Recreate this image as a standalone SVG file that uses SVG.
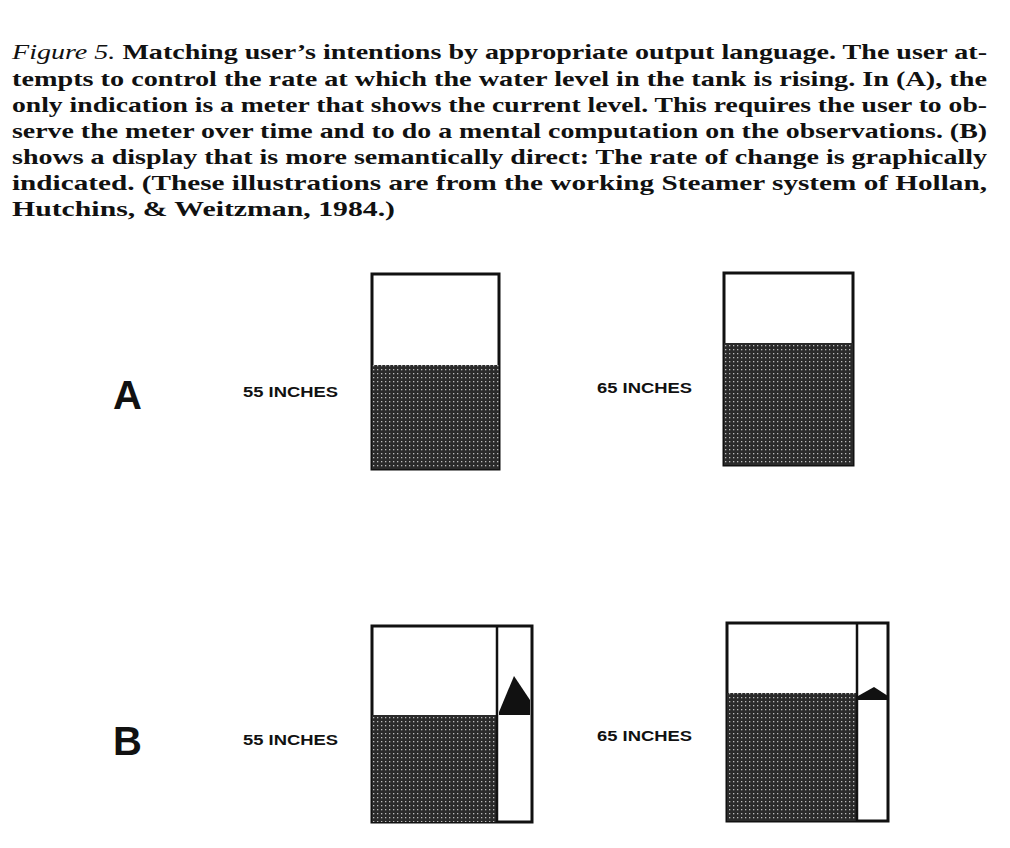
<svg xmlns="http://www.w3.org/2000/svg" width="1010" height="848" viewBox="0 0 1010 848">
<style>
.cap{font-family:"Liberation Serif",serif;font-weight:bold;font-size:22px;fill:#111}
.lbl{font-family:"Liberation Sans",sans-serif;font-weight:bold;font-size:14px;fill:#111}
.big{font-family:"Liberation Sans",sans-serif;font-weight:bold;font-size:40px;fill:#111}
.frame{fill:#fff;stroke:#111;stroke-width:3}
.water{fill:url(#dots)}
</style>
<defs>
<pattern id="dots" width="4" height="4" patternUnits="userSpaceOnUse">
<rect width="4" height="4" fill="#2a2a2a"/>
<rect x="1" y="1" width="1.3" height="1.3" fill="#bbb"/>
</pattern>
</defs>
<rect width="1010" height="848" fill="#fff"/>
<g id="caption">
<text class="cap" x="12" y="59" textLength="975" lengthAdjust="spacingAndGlyphs"><tspan font-style="italic" font-weight="normal">Figure 5.</tspan>   Matching user’s intentions by appropriate output language. The user at-</text>
<text class="cap" x="12" y="86" textLength="975" lengthAdjust="spacingAndGlyphs">tempts to control the rate at which the water level in the tank is rising. In (A), the</text>
<text class="cap" x="12" y="112" textLength="975" lengthAdjust="spacingAndGlyphs">only indication is a meter that shows the current level. This requires the user to ob-</text>
<text class="cap" x="12" y="138" textLength="975" lengthAdjust="spacingAndGlyphs">serve the meter over time and to do a mental computation on the observations. (B)</text>
<text class="cap" x="12" y="164" textLength="975" lengthAdjust="spacingAndGlyphs">shows a display that is more semantically direct: The rate of change is graphically</text>
<text class="cap" x="12" y="190" textLength="975" lengthAdjust="spacingAndGlyphs">indicated. (These illustrations are from the working Steamer system of Hollan,</text>
<text class="cap" x="12" y="216" textLength="383" lengthAdjust="spacingAndGlyphs">Hutchins, &amp; Weitzman, 1984.)</text>
</g>
<g id="panelA">
<text class="big" x="113" y="409">A</text>
<text class="lbl" x="243" y="397" textLength="95" lengthAdjust="spacingAndGlyphs">55 INCHES</text>
<rect class="frame" x="372" y="274" width="127" height="195"/>
<rect class="water" x="372" y="365" width="127" height="104"/>
<text class="lbl" x="597" y="393" textLength="95" lengthAdjust="spacingAndGlyphs">65 INCHES</text>
<rect class="frame" x="724" y="273" width="129" height="192"/>
<rect class="water" x="724" y="343" width="129" height="122"/>
</g>
<g id="panelB">
<text class="big" x="113" y="755">B</text>
<text class="lbl" x="243" y="745" textLength="95" lengthAdjust="spacingAndGlyphs">55 INCHES</text>
<rect class="frame" x="372" y="626" width="160" height="196"/>
<rect class="water" x="372" y="715" width="125" height="107"/>
<line x1="497" y1="626" x2="497" y2="822" stroke="#111" stroke-width="2.5"/>
<polygon points="499,712 514,676 530,700 530,712" fill="#111"/>
<rect x="499" y="712" width="31" height="3" fill="#111"/>
<text class="lbl" x="597" y="741" textLength="95" lengthAdjust="spacingAndGlyphs">65 INCHES</text>
<rect class="frame" x="727" y="623" width="161" height="198"/>
<rect class="water" x="727" y="693" width="130" height="128"/>
<line x1="857" y1="623" x2="857" y2="821" stroke="#111" stroke-width="2.5"/>
<polygon points="858,696 874,687 888,696 888,700 858,700" fill="#111"/>
</g>
</svg>
